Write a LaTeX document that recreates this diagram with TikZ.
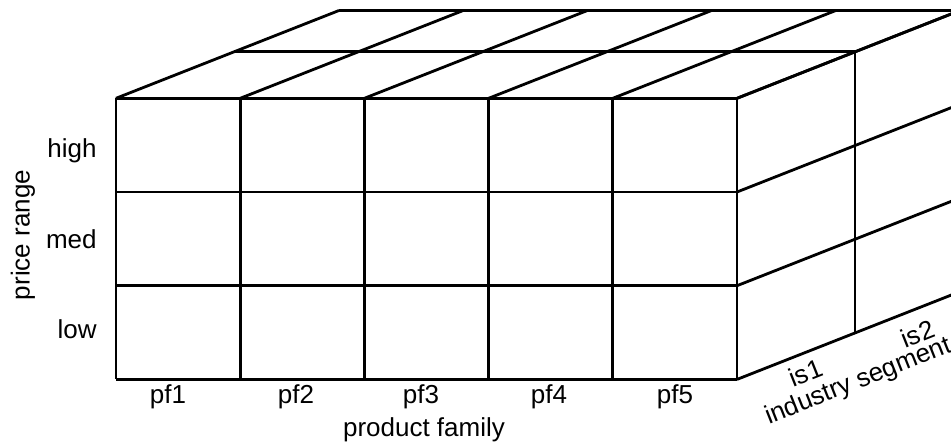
\documentclass[tikz,border=0pt]{standalone}
\usepackage{fontspec}
\setmainfont{Liberation Sans}
\begin{document}
\begin{tikzpicture}[x=0.5pt,y=-0.5pt,
  edge/.style={line width=1.4pt, line cap=butt, line join=miter},
  lbl/.style={font=\fontsize{13}{15}\selectfont, inner sep=0pt}]
\useasboundingbox (0,0) rectangle (951,444);
\clip (0,0) rectangle (951,444);
% depth steps of the two industry-segment slices
\def\dxa{118}\def\dya{-46.5}
\def\dxb{223}\def\dyb{-87.8}
% front face: product family x price range
\foreach \x in {116,240.2,364.4,488.6,612.8,737} {
  \draw[edge] (\x,98.3) -- (\x,379.4);
  \draw[edge] (\x,98.3) -- ++(\dxb,\dyb);
}
\foreach \y in {98.3,192,285.7,379.4} {
  \draw[edge] (116,\y) -- (737,\y);
  \draw[edge] (737,\y) -- ++(\dxb,\dyb);
}
% top face: slice edges
\coordinate (ta) at (116+\dxa,98.3+\dya);
\coordinate (tb) at (116+\dxb,98.3+\dyb);
\draw[edge] (ta) -- ++(621,0);
\draw[edge] (tb) -- ++(621,0);
% right face: slice edges
\draw[edge] (737+\dxa,98.3+\dya) -- (737+\dxa,379.4+\dya);
\draw[edge] (737+\dxb,98.3+\dyb) -- (737+\dxb,379.4+\dyb);
% price range labels
\node[lbl, anchor=base east] (high) at (97,157) {high};
\node[lbl, anchor=base east] (med) at (97,248) {med};
\node[lbl, anchor=base east] (low) at (97,338) {low};
\node[lbl, anchor=base, rotate=90] (pr) at (29.5,235) {price range};
% product family labels
\node[lbl, anchor=base] (pf1) at (168,403) {pf1};
\node[lbl, anchor=base] (pf2) at (296,403) {pf2};
\node[lbl, anchor=base] (pf3) at (421,403) {pf3};
\node[lbl, anchor=base] (pf4) at (549,403) {pf4};
\node[lbl, anchor=base] (pf5) at (675,403) {pf5};
\node[lbl, anchor=base] (pf) at (424,436) {product family};
% industry segment labels
\node[lbl, anchor=base, rotate=21.7] (is1) at (809,381) {is1};
\node[lbl, anchor=base, rotate=21.7] (is2) at (921,342) {is2};
\node[lbl, anchor=base, rotate=21.7] (is) at (861,388) {industry segment};
\end{tikzpicture}
\end{document}
